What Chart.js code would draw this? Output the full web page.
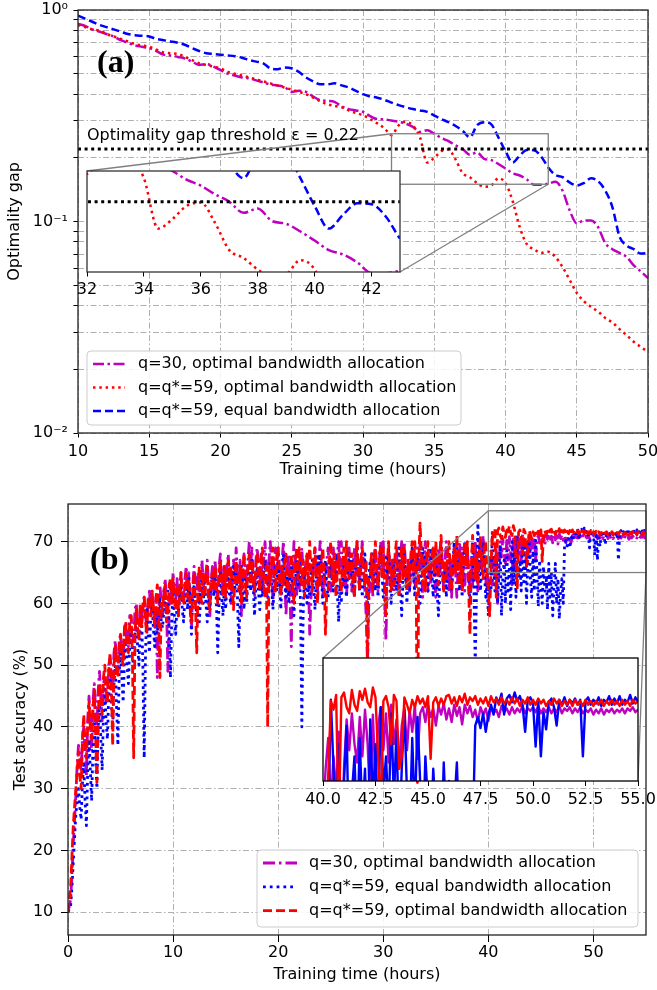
<!DOCTYPE html>
<html>
<head>
<meta charset="utf-8">
<script src="https://cdn.jsdelivr.net/npm/chart.js@4.4.1/dist/chart.umd.min.js"></script>
<style>
  html, body { margin: 0; padding: 0; background: #fff; }
  #page { position: relative; width: 657px; height: 990px; overflow: hidden; background: #fff; }
  #page canvas { position: absolute; }
</style>
</head>
<body>
<div id="page">
  <canvas id="gapChart" width="657" height="485" style="left:0;top:0"></canvas>
  <canvas id="gapInset" width="341" height="131" style="left:73px;top:169px"></canvas>
  <canvas id="accChart" width="657" height="505" style="left:0;top:485px"></canvas>
  <canvas id="accInset" width="352" height="153" style="left:303px;top:656px"></canvas>
</div>
<script>
// ---- (a) optimality gap vs training time ----
const gapHours = [
  10, 10.5, 11, 11.5, 12, 12.5, 13, 13.5, 14, 14.5,
  15, 15.5, 16, 16.5, 17, 17.5, 18, 18.5, 19, 19.5,
  20, 20.5, 21, 21.5, 22, 22.5, 23, 23.5, 24, 24.5,
  25, 25.5, 26, 26.5, 27, 27.5, 28, 28.5, 29, 29.5,
  30, 30.5, 31, 31.5, 32, 32.5, 33, 33.5, 34, 34.5,
  35, 35.5, 36, 36.5, 37, 37.5, 38, 38.5, 39, 39.5,
  40, 40.5, 41, 41.5, 42, 42.5, 43, 43.5, 44, 44.5,
  45, 45.5, 46, 46.5, 47, 47.5, 48, 48.5, 49, 49.5,
  50
];
const gapQ30 = [
  0.86, 0.84, 0.81, 0.79, 0.77, 0.75, 0.72, 0.70, 0.68, 0.67,
  0.66, 0.64, 0.615, 0.61, 0.60, 0.59, 0.57, 0.55, 0.555, 0.54,
  0.52, 0.50, 0.49, 0.48, 0.475, 0.465, 0.455, 0.445, 0.44, 0.432,
  0.41, 0.415, 0.41, 0.39, 0.375, 0.372, 0.368, 0.35, 0.34, 0.335,
  0.33, 0.315, 0.305, 0.304, 0.30, 0.296, 0.29, 0.28, 0.265, 0.27,
  0.26, 0.248, 0.240, 0.229, 0.220, 0.207, 0.212, 0.198, 0.195, 0.187,
  0.178, 0.169, 0.165, 0.158, 0.149, 0.149, 0.151, 0.154, 0.14, 0.113,
  0.098, 0.101, 0.101, 0.094, 0.079, 0.074, 0.071, 0.068, 0.062, 0.058,
  0.054
];
const gapQ59Opt = [
  0.85, 0.83, 0.81, 0.80, 0.77, 0.75, 0.73, 0.71, 0.69, 0.68,
  0.67, 0.65, 0.63, 0.625, 0.62, 0.60, 0.58, 0.56, 0.55, 0.54,
  0.53, 0.51, 0.50, 0.49, 0.48, 0.47, 0.46, 0.45, 0.44, 0.43,
  0.42, 0.41, 0.40, 0.385, 0.37, 0.358, 0.352, 0.347, 0.335, 0.326,
  0.318, 0.305, 0.291, 0.276, 0.256, 0.285, 0.296, 0.284, 0.25, 0.19,
  0.2, 0.215, 0.219, 0.196, 0.169, 0.162, 0.152, 0.146, 0.148, 0.16,
  0.152, 0.125, 0.094, 0.078, 0.074, 0.071, 0.072, 0.068, 0.061, 0.053,
  0.046, 0.042, 0.0395, 0.0375, 0.035, 0.0333, 0.031, 0.029, 0.027, 0.0255,
  0.0242
];
const gapQ59Equal = [
  0.94, 0.91, 0.88, 0.85, 0.83, 0.81, 0.79, 0.77, 0.76, 0.755,
  0.75, 0.73, 0.72, 0.71, 0.70, 0.685, 0.66, 0.64, 0.625, 0.62,
  0.615, 0.61, 0.605, 0.595, 0.58, 0.57, 0.56, 0.53, 0.525, 0.535,
  0.53, 0.51, 0.48, 0.46, 0.445, 0.445, 0.45, 0.44, 0.43, 0.415,
  0.40, 0.39, 0.385, 0.376, 0.365, 0.355, 0.347, 0.34, 0.335, 0.33,
  0.317, 0.305, 0.295, 0.283, 0.268, 0.25, 0.285, 0.295, 0.288, 0.25,
  0.215, 0.19, 0.205, 0.218, 0.217, 0.203, 0.18, 0.166, 0.162, 0.153,
  0.148, 0.152, 0.16, 0.155, 0.14, 0.117, 0.085, 0.077, 0.074, 0.0705,
  0.071
];
const gapThreshold = 0.22;
const gapHourTicks = [10, 15, 20, 25, 30, 35, 40, 45, 50];
const gapMajorTicks = [0.01, 0.1, 1];
const gapMajorLabels = ['10⁻²', '10⁻¹', '10⁰'];
const gapMinorTicks = [0.02, 0.03, 0.04, 0.05, 0.06, 0.07, 0.08, 0.09,
                       0.2, 0.3, 0.4, 0.5, 0.6, 0.7, 0.8, 0.9];
const gapInsetTicks = [32, 34, 36, 38, 40, 42];

// ---- (b) test accuracy vs training time, one row per hour (8 samples) ----
const accHours = [
  0, 0.125, 0.25, 0.375, 0.5, 0.625, 0.75, 0.875,
  1, 1.125, 1.25, 1.375, 1.5, 1.625, 1.75, 1.875,
  2, 2.125, 2.25, 2.375, 2.5, 2.625, 2.75, 2.875,
  3, 3.125, 3.25, 3.375, 3.5, 3.625, 3.75, 3.875,
  4, 4.125, 4.25, 4.375, 4.5, 4.625, 4.75, 4.875,
  5, 5.125, 5.25, 5.375, 5.5, 5.625, 5.75, 5.875,
  6, 6.125, 6.25, 6.375, 6.5, 6.625, 6.75, 6.875,
  7, 7.125, 7.25, 7.375, 7.5, 7.625, 7.75, 7.875,
  8, 8.125, 8.25, 8.375, 8.5, 8.625, 8.75, 8.875,
  9, 9.125, 9.25, 9.375, 9.5, 9.625, 9.75, 9.875,
  10, 10.125, 10.25, 10.375, 10.5, 10.625, 10.75, 10.875,
  11, 11.125, 11.25, 11.375, 11.5, 11.625, 11.75, 11.875,
  12, 12.125, 12.25, 12.375, 12.5, 12.625, 12.75, 12.875,
  13, 13.125, 13.25, 13.375, 13.5, 13.625, 13.75, 13.875,
  14, 14.125, 14.25, 14.375, 14.5, 14.625, 14.75, 14.875,
  15, 15.125, 15.25, 15.375, 15.5, 15.625, 15.75, 15.875,
  16, 16.125, 16.25, 16.375, 16.5, 16.625, 16.75, 16.875,
  17, 17.125, 17.25, 17.375, 17.5, 17.625, 17.75, 17.875,
  18, 18.125, 18.25, 18.375, 18.5, 18.625, 18.75, 18.875,
  19, 19.125, 19.25, 19.375, 19.5, 19.625, 19.75, 19.875,
  20, 20.125, 20.25, 20.375, 20.5, 20.625, 20.75, 20.875,
  21, 21.125, 21.25, 21.375, 21.5, 21.625, 21.75, 21.875,
  22, 22.125, 22.25, 22.375, 22.5, 22.625, 22.75, 22.875,
  23, 23.125, 23.25, 23.375, 23.5, 23.625, 23.75, 23.875,
  24, 24.125, 24.25, 24.375, 24.5, 24.625, 24.75, 24.875,
  25, 25.125, 25.25, 25.375, 25.5, 25.625, 25.75, 25.875,
  26, 26.125, 26.25, 26.375, 26.5, 26.625, 26.75, 26.875,
  27, 27.125, 27.25, 27.375, 27.5, 27.625, 27.75, 27.875,
  28, 28.125, 28.25, 28.375, 28.5, 28.625, 28.75, 28.875,
  29, 29.125, 29.25, 29.375, 29.5, 29.625, 29.75, 29.875,
  30, 30.125, 30.25, 30.375, 30.5, 30.625, 30.75, 30.875,
  31, 31.125, 31.25, 31.375, 31.5, 31.625, 31.75, 31.875,
  32, 32.125, 32.25, 32.375, 32.5, 32.625, 32.75, 32.875,
  33, 33.125, 33.25, 33.375, 33.5, 33.625, 33.75, 33.875,
  34, 34.125, 34.25, 34.375, 34.5, 34.625, 34.75, 34.875,
  35, 35.125, 35.25, 35.375, 35.5, 35.625, 35.75, 35.875,
  36, 36.125, 36.25, 36.375, 36.5, 36.625, 36.75, 36.875,
  37, 37.125, 37.25, 37.375, 37.5, 37.625, 37.75, 37.875,
  38, 38.125, 38.25, 38.375, 38.5, 38.625, 38.75, 38.875,
  39, 39.125, 39.25, 39.375, 39.5, 39.625, 39.75, 39.875,
  40, 40.125, 40.25, 40.375, 40.5, 40.625, 40.75, 40.875,
  41, 41.125, 41.25, 41.375, 41.5, 41.625, 41.75, 41.875,
  42, 42.125, 42.25, 42.375, 42.5, 42.625, 42.75, 42.875,
  43, 43.125, 43.25, 43.375, 43.5, 43.625, 43.75, 43.875,
  44, 44.125, 44.25, 44.375, 44.5, 44.625, 44.75, 44.875,
  45, 45.125, 45.25, 45.375, 45.5, 45.625, 45.75, 45.875,
  46, 46.125, 46.25, 46.375, 46.5, 46.625, 46.75, 46.875,
  47, 47.125, 47.25, 47.375, 47.5, 47.625, 47.75, 47.875,
  48, 48.125, 48.25, 48.375, 48.5, 48.625, 48.75, 48.875,
  49, 49.125, 49.25, 49.375, 49.5, 49.625, 49.75, 49.875,
  50, 50.125, 50.25, 50.375, 50.5, 50.625, 50.75, 50.875,
  51, 51.125, 51.25, 51.375, 51.5, 51.625, 51.75, 51.875,
  52, 52.125, 52.25, 52.375, 52.5, 52.625, 52.75, 52.875,
  53, 53.125, 53.25, 53.375, 53.5, 53.625, 53.75, 53.875,
  54, 54.125, 54.25, 54.375, 54.5, 54.625, 54.75, 54.875,
  55
];
const accQ30 = [
  10, 11, 12, 16, 21, 25, 29, 34,
  37, 35, 33, 38, 40, 36, 32, 41,
  45, 41, 36, 44, 47, 43, 40, 46,
  49, 45, 41, 47, 48, 44, 45, 50,
  51, 48, 46, 52, 54, 50, 49, 53,
  55, 52, 51, 56, 57, 54, 53, 58,
  58, 55, 54, 59, 60, 56, 55, 59,
  57, 60, 61, 58, 56, 60, 62, 59,
  62, 59, 57, 61, 48, 58, 63, 60,
  58, 62, 64, 60, 49, 59, 63, 61,
  65, 62, 60, 64, 59, 63, 65, 61,
  61, 64, 66, 62, 65, 60, 56, 63,
  66, 63, 62, 65, 60, 64, 67, 63,
  62, 65, 67, 63, 58, 64, 66, 62,
  67, 63, 61, 66, 68, 64, 62, 66,
  62, 66, 68, 63, 60, 65, 67, 64,
  69, 65, 63, 67, 58, 64, 68, 65,
  63, 67, 70, 66, 69, 64, 61, 67,
  69, 66, 64, 68, 62, 67, 70, 65,
  63, 67, 70, 66, 60, 66, 69, 65,
  69, 65, 62, 67, 70, 64, 58, 66,
  68, 62, 53, 64, 70, 66, 61, 67,
  62, 66, 69, 65, 63, 67, 68, 64,
  55, 61, 63, 67, 69, 65, 62, 67,
  70, 66, 61, 65, 63, 67, 69, 65,
  62, 66, 69, 65, 64, 68, 70, 66,
  70, 66, 63, 67, 61, 66, 69, 65,
  62, 66, 69, 65, 70, 66, 63, 67,
  70, 66, 62, 58, 50, 60, 64, 68,
  61, 66, 69, 65, 62, 67, 70, 66,
  70, 62, 54, 63, 69, 66, 63, 67,
  62, 66, 69, 65, 61, 67, 70, 66,
  70, 66, 63, 67, 62, 66, 69, 65,
  62, 66, 69, 65, 70, 66, 61, 67,
  70, 66, 62, 67, 63, 66, 69, 65,
  61, 66, 69, 65, 70, 66, 62, 67,
  70, 66, 62, 67, 61, 66, 69, 65,
  61, 66, 70, 66, 69, 65, 62, 67,
  69, 65, 62, 67, 63, 67, 70, 66,
  62, 67, 70, 66, 71, 67, 63, 66,
  62, 66, 68.5, 63, 67, 64, 69, 60,
  66, 70, 67.5, 70.5, 68, 66.5, 70.2, 67,
  70.8, 68, 63, 70.4, 65, 69.5, 71, 67.5,
  70.5, 66.5, 71.2, 68, 70, 66, 69.5, 71,
  67.5, 70.8, 69, 71.2, 66.8, 70.5, 71, 69.8,
  71.2, 70.2, 70.9, 69.5, 71.1, 70.4, 71.3, 70,
  70.9, 69.8, 71.2, 70.3, 71, 69.6, 71.2, 70.5,
  71.1, 70.2, 70.8, 69.8, 71, 70.4, 70.9, 69.9,
  71, 70.5, 70.8, 70.2, 71.1, 70.6, 70.9, 70.4,
  71, 70.5, 70.9, 70.6, 71.1, 70.5, 70.9, 70.7,
  71, 70.6, 71.1, 70.5, 70.9, 70.6, 71, 70.5,
  70.9, 70.6, 71.1, 70.5, 70.9, 70.7, 71, 70.5,
  70.9, 70.6, 71, 70.5, 70.8, 70.6, 70.9, 70.4,
  70.8, 70.5, 70.9, 70.4, 70.8, 70.6, 70.9, 70.5,
  70.8, 70.6, 70.9, 70.5, 70.9, 70.7, 71, 70.6,
  70.8
];
const accQ59Equal = [
  10, 10.5, 11, 14, 18, 22, 26, 28,
  30, 27, 25, 31, 34, 28, 24, 33,
  38, 33, 28, 37, 41, 35, 30, 40,
  44, 38, 33, 42, 46, 41, 38, 45,
  48, 44, 40, 47, 50, 43, 37, 49,
  52, 48, 44, 51, 54, 50, 47, 53,
  56, 52, 49, 55, 57, 53, 50, 56,
  58, 50, 35, 52, 59, 55, 52, 58,
  60, 56, 53, 59, 55, 58, 61, 57,
  56, 59, 61, 57, 62, 55, 48, 58,
  62, 58, 55, 60, 58, 61, 63, 59,
  57, 61, 63, 59, 64, 60, 55, 61,
  63, 60, 58, 62, 57, 61, 64, 60,
  64, 60, 57, 62, 59, 63, 65, 61,
  64, 60, 52, 60, 65, 61, 58, 63,
  59, 63, 65, 61, 60, 64, 66, 62,
  65, 61, 53, 60, 66, 62, 59, 64,
  60, 64, 66, 62, 67, 63, 58, 63,
  66, 62, 59, 64, 61, 65, 67, 63,
  60, 64, 67, 63, 59, 63, 66, 62,
  67, 63, 59, 64, 68, 64, 61, 65,
  60, 64, 66, 62, 58, 63, 67, 63,
  67, 60, 40, 58, 66, 62, 60, 64,
  61, 65, 67, 63, 59, 64, 68, 64,
  68, 64, 60, 65, 67, 63, 61, 65,
  67, 64, 62, 66, 68, 62, 57, 63,
  60, 64, 66, 63, 61, 65, 68, 64,
  67, 64, 61, 66, 69, 65, 62, 66,
  61, 65, 68, 64, 60, 64, 67, 64,
  68, 64, 62, 66, 61, 66, 69, 65,
  61, 65, 68, 64, 69, 64, 60, 64,
  67, 64, 62, 66, 69, 63, 58, 64,
  68, 64, 60, 65, 62, 66, 69, 65,
  61, 65, 68, 64, 60, 65, 69, 65,
  68, 64, 62, 66, 69, 65, 61, 65,
  68, 62, 58, 64, 69, 65, 62, 66,
  61, 66, 69, 65, 62, 66, 70, 66,
  69, 65, 62, 66, 61, 66, 70, 66,
  69, 64, 60, 66, 70, 62, 50, 62,
  73, 67, 62, 66, 70, 65, 61, 63,
  58, 64, 62, 71.6, 66, 62, 68, 60,
  65, 69.5, 58, 64, 67, 60, 68.5, 62,
  66, 59, 70, 63, 68, 61, 71, 64,
  67, 62, 70.5, 63.5, 69, 60, 66, 70.8,
  64, 61, 68.5, 62, 70.2, 65, 59.5, 67,
  63, 60, 66, 62, 64.5, 59, 66.5, 61,
  65, 58, 63, 66.5, 60, 64, 57.5, 62,
  64, 60, 69.5, 70.2, 69.3, 70.5, 69, 70.4,
  71.2, 70.4, 71.8, 71.3, 72.1, 70.4, 71.7, 72,
  71.4, 72.2, 71.5, 71.9, 71.2, 69, 71.6, 71.8,
  71.3, 67.8, 71.5, 67, 70.6, 69.2, 71.4, 71.7,
  71, 69.5, 71.6, 71.2, 71.8, 71.1, 71.6, 71.3,
  71.7, 71.2, 71.6, 67, 71.5, 71.8, 71.2, 71.6,
  71.3, 71.8, 71.1, 71.6, 71.4, 71.9, 71.2, 71.7,
  71.3, 71.9, 71.2, 71.6, 71.4, 72, 71.3, 71.8,
  71.4
];
const accQ59Opt = [
  10, 12, 14, 19, 24, 27, 30, 33,
  36, 32, 30, 38, 42, 37, 35, 40,
  44, 40, 38, 43, 46, 39, 31, 42,
  47, 45, 42, 48, 50, 46, 44, 49,
  52, 47, 37, 50, 53, 49, 48, 54,
  55, 51, 50, 56, 57, 53, 52, 57,
  58, 52, 35, 55, 59, 56, 54, 60,
  56, 59, 61, 57, 55, 61, 60, 58,
  62, 59, 56, 61, 63, 57, 48, 60,
  59, 62, 63, 57, 58, 63, 64, 60,
  64, 61, 59, 63, 58, 62, 65, 60,
  60, 63, 65, 61, 64, 59, 57, 62,
  65, 60, 52, 63, 66, 61, 60, 65,
  61, 64, 66, 60, 59, 64, 65, 62,
  66, 62, 60, 65, 67, 63, 61, 66,
  61, 65, 67, 62, 66, 63, 59, 64,
  67, 63, 62, 66, 60, 65, 68, 63,
  61, 66, 68, 63, 67, 64, 62, 66,
  68, 64, 62, 67, 69, 63, 61, 66,
  40, 66, 63, 67, 69, 64, 62, 68,
  69, 64, 61, 66, 63, 67, 68, 62,
  62, 66, 68, 63, 60, 66, 69, 64,
  69, 65, 63, 67, 61, 65, 68, 63,
  70, 65, 62, 67, 69, 64, 60, 66,
  63, 67, 69, 64, 55, 62, 62, 67,
  70, 65, 63, 68, 61, 66, 68, 64,
  62, 66, 69, 64, 70, 66, 64, 68,
  68, 64, 61, 66, 70, 65, 62, 67,
  69, 65, 63, 67, 50, 64, 64, 68,
  62, 67, 70, 65, 63, 68, 69, 64,
  69, 63, 58, 66, 70, 65, 62, 67,
  63, 68, 70, 65, 61, 66, 69, 64,
  69, 65, 62, 67, 63, 68, 70, 65,
  70, 66, 31, 67, 73, 68, 63, 67,
  62, 67, 70, 65, 64, 68, 69, 65,
  70, 66, 63, 68, 71, 66, 62, 67,
  64, 68, 70, 65, 62, 67, 69, 65,
  71, 66, 63, 68, 62, 67, 70, 66,
  70, 62, 55, 66, 71, 67, 64, 68,
  63, 68, 71, 66, 64, 69, 70, 65,
  62, 58, 65.5, 71.5, 70.8, 72, 61, 71.8,
  72.2, 71, 70.5, 72.4, 71.2, 70.7, 72.3, 71.6,
  72.5, 71.4, 71, 72.6, 71.8, 67, 62.5, 71.5,
  71.9, 71, 68, 72, 71.5, 66, 67, 71.8,
  71.2, 70.5, 71.6, 71, 71.9, 71.3, 71.7, 71,
  71.9, 66.8, 71.4, 71.8, 71.1, 71.7, 71.2, 71.9,
  72, 71.3, 71.8, 71.1, 71.9, 71.4, 72.1, 71.2,
  71.8, 71.5, 71.9, 71.2, 71.7, 71.3, 71.8, 71.1,
  71.9, 71.4, 71.7, 71.2, 71.8, 71.3, 71.6, 71.2,
  71.8, 71.3, 71.7, 71.1, 71.6, 71.3, 71.8, 71.2,
  71.6, 71.2, 71.7, 71.3, 71.6, 71.1, 71.5, 71.2,
  71.7, 71.3, 71.6, 71.1, 71.5, 71.2, 71.6, 71.1,
  71.6, 71.2, 71.5, 71.1, 71.6, 71.2, 71.5, 71.1,
  71.5, 71.2, 71.6, 71.1, 71.5, 71.2, 71.6, 71.2,
  71.5, 71.1, 71.6, 71.2, 71.5, 71.1, 71.6, 71.3,
  71.5
];
const accTicks = [10, 20, 30, 40, 50, 60, 70];
const accHourTicks = [0, 10, 20, 30, 40, 50];
const accInsetTicks = [40, 42.5, 45, 47.5, 50, 52.5, 55];

// ---- styles ----
const FONT_FAMILY = '"DejaVu Sans", Verdana, sans-serif';
const FONT_SIZE = 16;
const GRID_COLOR = '#b0b0b0';
const GRID_DASH = [6, 2.5, 1.5, 2.5];
const MAGENTA = '#bf00bf';
const RED = '#ff0000';
const BLUE = '#0000ff';
const DASH_DOT = [11, 3.5, 2.5, 3.5];
const DOTTED = [2.5, 3.8];
const DASHED = [8, 4];

function points(xs, ys) {
  return xs.map((x, i) => ({ x: x, y: ys[i] }));
}
function fixedTicks(values) {
  return scale => { scale.ticks = values.map(v => ({ value: v })); };
}
function fitX(height) {
  return scale => { scale.height = height; scale.paddingLeft = 0; scale.paddingRight = 0; };
}
function fitY(width) {
  return scale => { scale.width = width; scale.paddingTop = 0; scale.paddingBottom = 0; };
}
function tickFont() {
  return { family: FONT_FAMILY, size: FONT_SIZE };
}

// plain axis, ticks set from an array
function axis(o) {
  return {
    type: o.type || 'linear',
    min: o.min,
    max: o.max,
    display: o.display !== false,
    afterBuildTicks: fixedTicks(o.ticks || []),
    afterFit: o.horizontal ? fitX(o.size) : fitY(o.size),
    grid: {
      drawOnChartArea: !!o.grid,
      color: GRID_COLOR,
      lineWidth: 1,
      tickColor: '#000',
      tickLength: o.tickLength || 4.5,
      tickWidth: 1
    },
    border: { display: false, dash: GRID_DASH },
    ticks: {
      autoSkip: false,
      maxRotation: 0,
      padding: o.pad,
      color: '#000',
      font: tickFont(),
      callback: o.format || (v => String(v))
    },
    title: o.title ? {
      display: true,
      text: o.title,
      color: '#000',
      font: tickFont(),
      padding: o.titlePad
    } : { display: false }
  };
}

// ---- small drawing plugins ----
function frame(color, width) {
  return {
    id: 'frame',
    afterDatasetsDraw(chart) {
      const { ctx, chartArea: a } = chart;
      ctx.save();
      ctx.strokeStyle = color;
      ctx.lineWidth = width;
      ctx.strokeRect(a.left, a.top, a.right - a.left, a.bottom - a.top);
      ctx.restore();
    }
  };
}

const whiteArea = {
  id: 'whiteArea',
  beforeDraw(chart) {
    const { ctx, chartArea: a } = chart;
    ctx.save();
    ctx.fillStyle = '#fff';
    ctx.fillRect(a.left, a.top, a.right - a.left, a.bottom - a.top);
    ctx.restore();
  }
};

// rectangle showing the inset range + the two connector lines
function zoomMark(inset) {
  return {
    id: 'zoomMark',
    afterDatasetsDraw(chart) {
      const { ctx, scales } = chart;
      const ix = inset.scales.x, iy = inset.scales.y;
      const l = scales.x.getPixelForValue(ix.min);
      const r = scales.x.getPixelForValue(ix.max);
      const t = scales.y.getPixelForValue(iy.max);
      const b = scales.y.getPixelForValue(iy.min);
      const ox = inset.canvas.offsetLeft - chart.canvas.offsetLeft;
      const oy = inset.canvas.offsetTop - chart.canvas.offsetTop;
      const a = inset.chartArea;
      ctx.save();
      ctx.strokeStyle = '#808080';
      ctx.lineWidth = 1.3;
      ctx.strokeRect(l, t, r - l, b - t);
      ctx.beginPath();
      ctx.moveTo(l, t);
      ctx.lineTo(a.left + ox, a.top + oy);
      ctx.moveTo(r, b);
      ctx.lineTo(a.right + ox, a.bottom + oy);
      ctx.stroke();
      ctx.restore();
    }
  };
}

function legendBox(box) {
  return {
    id: 'legendBox',
    afterDatasetsDraw(chart) {
      const ctx = chart.ctx;
      ctx.save();
      ctx.beginPath();
      if (ctx.roundRect) ctx.roundRect(box.left, box.top, box.width, box.height, 4);
      else ctx.rect(box.left, box.top, box.width, box.height);
      ctx.fillStyle = 'rgba(255,255,255,0.85)';
      ctx.fill();
      ctx.lineWidth = 1;
      ctx.strokeStyle = '#cccccc';
      ctx.stroke();
      ctx.font = FONT_SIZE + 'px ' + FONT_FAMILY;
      ctx.textBaseline = 'middle';
      ctx.textAlign = 'left';
      box.order.forEach((index, row) => {
        const ds = chart.data.datasets[index];
        const y = box.top + box.firstRow + row * box.rowGap;
        ctx.beginPath();
        ctx.setLineDash(ds.borderDash || []);
        ctx.lineWidth = ds.borderWidth;
        ctx.strokeStyle = ds.borderColor;
        ctx.moveTo(box.left + box.sample[0], y);
        ctx.lineTo(box.left + box.sample[1], y);
        ctx.stroke();
        ctx.setLineDash([]);
        ctx.fillStyle = '#000';
        ctx.fillText(ds.label, box.left + box.textLeft, y);
      });
      ctx.restore();
    }
  };
}

function notes(items) {
  return {
    id: 'notes',
    afterDatasetsDraw(chart) {
      const { ctx, scales } = chart;
      items.forEach(n => {
        const x = n.xValue !== undefined ? scales.x.getPixelForValue(n.xValue) : n.x;
        const y = n.yValue !== undefined ? scales.y.getPixelForValue(n.yValue) + n.dy : n.y;
        ctx.save();
        ctx.font = n.font;
        ctx.fillStyle = '#000';
        ctx.textAlign = 'left';
        ctx.textBaseline = 'alphabetic';
        ctx.fillText(n.text, x, y);
        ctx.restore();
      });
    }
  };
}

const baseOptions = {
  responsive: false,
  animation: false,
  devicePixelRatio: 1,
  events: [],
  elements: { point: { radius: 0 } },
  plugins: { legend: { display: false }, tooltip: { enabled: false } }
};

// ---- (a) datasets ----
function gapDatasets(width) {
  return [
    { label: 'q=30, optimal bandwidth allocation', data: points(gapHours, gapQ30),
      borderColor: MAGENTA, borderDash: DASH_DOT, borderWidth: width, order: 3 },
    { label: 'q=q*=59, optimal bandwidth allocation', data: points(gapHours, gapQ59Opt),
      borderColor: RED, borderDash: DOTTED, borderWidth: width, order: 2 },
    { label: 'q=q*=59, equal bandwidth allocation', data: points(gapHours, gapQ59Equal),
      borderColor: BLUE, borderDash: DASHED, borderWidth: width, order: 1 },
    { label: 'threshold',
      data: [{ x: gapHours[0], y: gapThreshold }, { x: gapHours[gapHours.length - 1], y: gapThreshold }],
      borderColor: '#000', borderDash: [3, 3.6], borderWidth: 3, order: 0 }
  ].map(d => Object.assign(d, { fill: false, pointRadius: 0, cubicInterpolationMode: 'monotone', borderCapStyle: 'butt' }));
}

const gapInset = new Chart(document.getElementById('gapInset'), {
  type: 'line',
  data: { datasets: gapDatasets(2.5) },
  options: Object.assign({}, baseOptions, {
    layout: { padding: { left: 14, right: 14, top: 2, bottom: 0 } },
    scales: {
      x: axis({ horizontal: true, min: 32, max: 43, ticks: gapInsetTicks, size: 28, pad: 3.9, tickLength: 4.5 }),
      y: { type: 'logarithmic', min: 0.15, max: 0.26, display: false }
    }
  }),
  plugins: [whiteArea, frame('#333', 1.3)]
});

new Chart(document.getElementById('gapChart'), {
  type: 'line',
  data: { datasets: gapDatasets(2.5) },
  options: Object.assign({}, baseOptions, {
    layout: { padding: { left: 0, right: 9, top: 10, bottom: 0 } },
    scales: {
      x: axis({ horizontal: true, min: 10, max: 50, ticks: gapHourTicks, size: 52, pad: 4.6, grid: true,
                title: 'Training time (hours)', titlePad: { top: 0, bottom: 5.4 } }),
      y: axis({ type: 'logarithmic', min: 0.01, max: 1,
                ticks: gapMinorTicks.concat(gapMajorTicks).sort((a, b) => a - b),
                size: 78, pad: 5.5, grid: true,
                format: v => { const i = gapMajorTicks.indexOf(v); return i < 0 ? '' : gapMajorLabels[i]; },
                title: 'Optimality gap', titlePad: { top: 5.4, bottom: 0 } })
    }
  }),
  plugins: [
    zoomMark(gapInset),
    legendBox({ left: 87, top: 351, width: 374, height: 74, firstRow: 13, rowGap: 23.5,
                sample: [6, 38], textLeft: 51, order: [0, 1, 2] }),
    notes([
      { text: '(a)', x: 97, y: 72, font: 'bold 32px "Liberation Serif", "Times New Roman", serif' },
      { text: 'Optimality gap threshold ε = 0.22', xValue: 10.63, yValue: gapThreshold, dy: -9,
        font: FONT_SIZE + 'px ' + FONT_FAMILY }
    ]),
    frame('#222', 1.3)
  ]
});

// ---- (b) datasets ----
function accDatasets(solid) {
  return [
    { label: 'q=30, optimal bandwidth allocation', data: points(accHours, accQ30),
      borderColor: MAGENTA, borderDash: solid ? [] : [12, 4, 2.5, 4], order: 3 },
    { label: 'q=q*=59, equal bandwidth allocation', data: points(accHours, accQ59Equal),
      borderColor: BLUE, borderDash: solid ? [] : [2.8, 4], order: 2 },
    { label: 'q=q*=59, optimal bandwidth allocation', data: points(accHours, accQ59Opt),
      borderColor: RED, borderDash: solid ? [] : [9, 4], order: 1 }
  ].map(d => Object.assign(d, { fill: false, pointRadius: 0, tension: 0, borderWidth: solid ? 2.4 : 2.8,
                                borderCapStyle: 'butt', borderJoinStyle: 'round' }));
}

const accInset = new Chart(document.getElementById('accInset'), {
  type: 'line',
  data: { datasets: accDatasets(true) },
  options: Object.assign({}, baseOptions, {
    layout: { padding: { left: 20, right: 17, top: 2, bottom: 0 } },
    scales: {
      x: axis({ horizontal: true, min: 40, max: 55, ticks: accInsetTicks, size: 28, pad: 4.4, tickLength: 5,
                format: v => v.toFixed(1) }),
      y: { type: 'linear', min: 65, max: 75, display: false }
    }
  }),
  plugins: [whiteArea, frame('#000', 1.3)]
});

new Chart(document.getElementById('accChart'), {
  type: 'line',
  data: { datasets: accDatasets(false) },
  options: Object.assign({}, baseOptions, {
    layout: { padding: { left: 0, right: 11, top: 19, bottom: 0 } },
    scales: {
      x: axis({ horizontal: true, min: 0, max: 55, ticks: accHourTicks, size: 55, pad: 1.4, tickLength: 7, grid: true,
                title: 'Training time (hours)', titlePad: { top: 0, bottom: 5.4 } }),
      y: axis({ min: 6.3, max: 76.1, ticks: accTicks, size: 68, pad: 7.7, tickLength: 7, grid: true,
                title: 'Test accuracy (%)', titlePad: { top: 10.9, bottom: 0 } })
    }
  }),
  plugins: [
    zoomMark(accInset),
    legendBox({ left: 257, top: 365, width: 381, height: 77, firstRow: 13, rowGap: 23.8,
                sample: [6, 40], textLeft: 52, order: [0, 1, 2] }),
    notes([
      { text: '(b)', x: 90, y: 84, font: 'bold 32px "Liberation Serif", "Times New Roman", serif' }
    ]),
    frame('#222', 1.3)
  ]
});
</script>
</body>
</html>
